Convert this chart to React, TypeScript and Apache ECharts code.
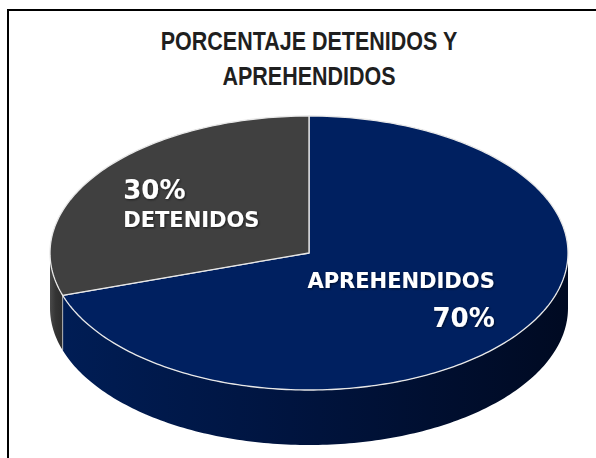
import React, { useEffect, useRef } from "react";
import * as echarts from "echarts";

// ---- data ----
const categories = ["APREHENDIDOS", "DETENIDOS"];
const values = [70, 30];
const titleLines = ["PORCENTAJE DETENIDOS Y", "APREHENDIDOS"];

// ---- styles ----
const topColors = ["#002060", "#404040"];
const sideStops = [
  ["#001d55", "#00143f", "#000a22"],
  ["#4a4a4a", "#343434", "#2c2c2c"],
];

// geometry of the tilted pie
const CX = 309;
const CY = 253;
const RX = 259;
const RY = 137;
const DEPTH = 55;

function pt(theta: number, dy = 0): number[] {
  const r = (theta * Math.PI) / 180;
  return [CX + RX * Math.sin(r), CY - RY * Math.cos(r) + dy];
}

function arcPoints(a: number, b: number, dy = 0): number[][] {
  const out: number[][] = [];
  const step = 1;
  for (let t = a; t < b; t += step) out.push(pt(t, dy));
  out.push(pt(b, dy));
  return out;
}

// label layout per slice (align + offset from mid-angle anchor)
const labelLayout = [
  { order: "namefirst", align: "right", dx: 81, dy: 6.5, lh: 37 },
  { order: "pctfirst", align: "left", dx: -81, dy: -8, lh: 30 },
];

export default function App() {
  const ref = useRef<HTMLDivElement>(null);

  useEffect(() => {
    if (!ref.current) return;
    const chart = echarts.init(ref.current, undefined, { renderer: "svg" });
    const total = values.reduce((a, b) => a + b, 0);

    const renderItem = (params: any, api: any) => {
      const i = params.dataIndex;
      let start = 0;
      for (let k = 0; k < i; k++) start += values[k];
      const v = api.value(0);
      const a1 = (start / total) * 360;
      const a2 = ((start + v) / total) * 360;
      const children: any[] = [];

      // visible side wall (front half: 90..270 deg clockwise from top)
      const s = Math.max(a1, 90);
      const e = Math.min(a2, 270);
      if (e > s) {
        const topArc = arcPoints(s, e, 0);
        const botArc = arcPoints(s, e, DEPTH).reverse();
        const st = sideStops[i];
        children.push({
          type: "polygon",
          z2: 1,
          shape: { points: topArc.concat(botArc) },
          style: {
            fill: {
              type: "linear",
              x: 0,
              y: 0,
              x2: 1,
              y2: 0,
              colorStops: [
                { offset: 0, color: st[0] },
                { offset: 0.45, color: st[1] },
                { offset: 1, color: st[2] },
              ],
            },
            stroke: "none",
          },
        });
      }
      // edge line on the side at slice boundary
      if (a1 > 90 && a1 < 270) {
        const p1 = pt(a1, 0);
        const p2 = pt(a1, DEPTH);
        children.push({
          type: "line",
          z2: 2,
          shape: { x1: p1[0], y1: p1[1], x2: p2[0], y2: p2[1] },
          style: { stroke: "rgba(255,255,255,0.55)", lineWidth: 1 },
        });
      }

      // top face
      const pts = [[CX, CY]].concat(arcPoints(a1, a2, 0));
      children.push({
        type: "polygon",
        z2: 10,
        shape: { points: pts },
        style: {
          fill: topColors[i],
          stroke: "#e8e8e8",
          lineWidth: 1.3,
          lineJoin: "round",
        },
      });

      // label
      const mid = (a1 + a2) / 2;
      const anchor = [
        CX + 0.5 * RX * Math.sin((mid * Math.PI) / 180),
        CY - 0.5 * RY * Math.cos((mid * Math.PI) / 180),
      ];
      const L = labelLayout[i];
      const pct = Math.round((v / total) * 100) + "%";
      const text =
        L.order === "namefirst"
          ? `{n|${categories[i]}}\n{p|${pct}}`
          : `{p|${pct}}\n{n|${categories[i]}}`;
      children.push({
        type: "text",
        z2: 20,
        x: anchor[0] + L.dx,
        y: anchor[1] + L.dy,
        style: {
          text,
          align: L.align,
          verticalAlign: "middle",
          fill: "#ffffff",
          textShadowColor: "rgba(0,0,0,0.55)",
          textShadowBlur: 2,
          textShadowOffsetX: 1,
          textShadowOffsetY: 1,
          rich: {
            n: {
              fontFamily: "DejaVu Sans",
              fontWeight: "bold",
              fontSize: 21,
              lineHeight: L.lh,
              fill: "#ffffff",
              align: L.align,
            },
            p: {
              fontFamily: "DejaVu Sans",
              fontWeight: "bold",
              fontSize: 26,
              lineHeight: L.lh,
              fill: "#ffffff",
              align: L.align,
            },
          },
        },
      });

      return { type: "group", children };
    };

    chart.setOption({
      animation: false,
      backgroundColor: "#ffffff",
      graphic: [
        {
          type: "rect",
          shape: { x: 8, y: 10, width: 700, height: 600 },
          style: { fill: "none", stroke: "#000000", lineWidth: 2 },
          z: 0,
        },
        {
          type: "text",
          x: 309,
          y: 24,
          scaleX: 0.86,
          style: {
            text: titleLines.join("\n"),
            font: 'bold 25px "Liberation Sans", Arial, sans-serif',
            align: "center",
            verticalAlign: "top",
            lineHeight: 35,
            fill: "#1f1f1f",
          },
          z: 5,
        },
      ],
      series: [
        {
          type: "custom",
          coordinateSystem: "none",
          renderItem,
          data: values.map((v, i) => ({ value: v, name: categories[i] })),
        },
      ],
    });

    return () => chart.dispose();
  }, []);

  return (
    <div
      ref={ref}
      style={{
        position: "fixed",
        left: 0,
        top: 0,
        width: 596,
        height: 458,
        background: "#fff",
      }}
    />
  );
}
